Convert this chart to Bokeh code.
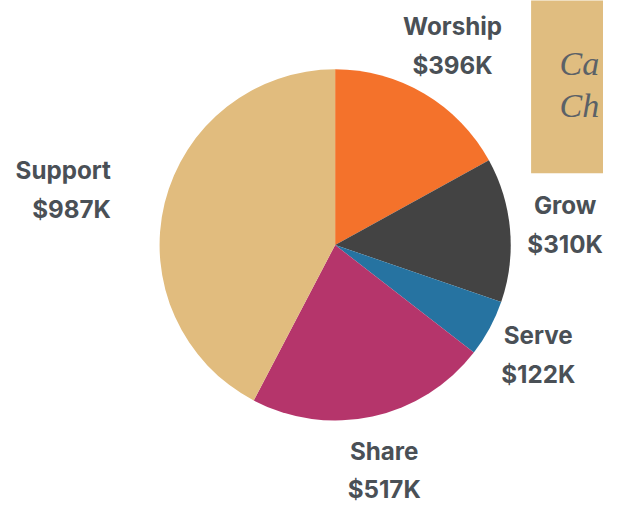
import math
from bokeh.plotting import figure
from bokeh.models import Range1d, ColumnDataSource
from bokeh.core.properties import value
from bokeh.embed import file_html
from bokeh.resources import INLINE

# ---- data ----
categories = ["Worship", "Grow", "Serve", "Share", "Support"]
amounts_k = [396, 310, 122, 517, 987]
colors = ["#F4722B", "#434343", "#2673A1", "#B5356B", "#E1BC7E"]

# ---- layout ----
W, H = 603, 503
S = 0.97               # overall scale so that everything fits in the frame
CX, CY = 345 * S, 252 * S   # pie centre in px
R_PX = 181.0 * S            # pie radius in px
FS = 25 * S                 # label font size, px
LINE = 20 * S               # half line spacing, px
LR_PX = 238 * S             # label distance from centre

def ux(px):
    return (px - CX) / R_PX

def uy(py):
    return (CY - py) / R_PX

p = figure(width=W, height=H, output_backend="svg", toolbar_location=None,
           x_range=Range1d(ux(0), ux(W)), y_range=Range1d(uy(H), uy(0)),
           min_border=0)
p.axis.visible = False
p.grid.visible = False
p.outline_line_color = None
p.background_fill_color = "white"
p.border_fill_color = "white"

total = sum(amounts_k)
starts, ends, mids = [], [], []
cum = 0
for a in amounts_k:
    s = math.pi / 2 - 2 * math.pi * cum / total
    cum += a
    e = math.pi / 2 - 2 * math.pi * cum / total
    starts.append(s)
    ends.append(e)
    mids.append((s + e) / 2)

src = ColumnDataSource(dict(cat=categories, start=starts, end=ends, color=colors))
p.wedge(x=0, y=0, radius=1.0, start_angle="start", end_angle="end",
        direction="clock", fill_color="color", line_color=None, source=src)

# labels: placed outside the pie along the mid-angle
lx, ly, names, vals, aligns = [], [], [], [], []
for c, a, m in zip(categories, amounts_k, mids):
    px = CX + LR_PX * math.cos(m)
    py = CY - LR_PX * math.sin(m)
    align = "right" if px < CX - 0.9 * R_PX else "center"
    lx.append(ux(px))
    ly.append(uy(py))
    names.append(c)
    vals.append(f"${a}K")
    aligns.append(align)

lab = ColumnDataSource(dict(x=lx, y=ly, name=names, val=vals, align=aligns))
common = dict(text_font=value("Inter"), text_font_style="bold", text_font_size=f"{FS:.1f}px",
              text_color="#4A5056", text_baseline="middle", text_align="align", source=lab)
p.text(x="x", y="y", text="name", y_offset=-LINE, **common)
p.text(x="x", y="y", text="val", y_offset=LINE, **common)

# top-right card
p.quad(left=ux(547 * S), right=ux(700), top=uy(-20), bottom=uy(178 * S),
       fill_color="#E0BD80", line_color=None)
card = dict(text_font=value("Liberation Serif"), text_font_style="italic",
            text_font_size="34px", text_color="#5B6167", text_baseline="alphabetic")
p.text(x=[ux(559)], y=[uy(63)], text=["Ca"], **card)
p.text(x=[ux(559)], y=[uy(105)], text=["Ch"], **card)

open("out.html", "w").write(file_html(p, INLINE))
